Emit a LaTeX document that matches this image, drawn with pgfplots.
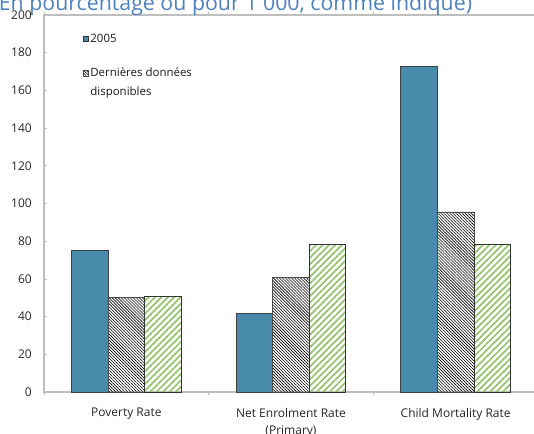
\documentclass[border=0pt]{standalone}
\usepackage{fontspec}
\setmainfont{Open Sans}
\usepackage{pgfplots}
\pgfplotsset{compat=1.18}
\usetikzlibrary{patterns.meta}
\definecolor{barblue}{RGB}{72,138,170}
\definecolor{bargreen}{RGB}{150,195,110}
\definecolor{titleblue}{RGB}{79,129,189}
\definecolor{axgray}{RGB}{190,190,190}
\begin{document}
\begin{tikzpicture}
\begin{axis}[
  name=ax,
  scale only axis,
  width=370.5pt, height=282.75pt,
  xmin=-0.5, xmax=2.5,
  ymin=0, ymax=200,
  ytick distance=20,
  xtick={0,1,2},
  xticklabels={Poverty Rate, Net Enrolment Rate\\(Primary), Child Mortality Rate},
  minor xtick={-0.5,0.5,1.5},
  major x tick style={draw=none},
  tick align=inside,
  major tick length=2.25pt,
  minor tick length=2.25pt,
  tick style={axgray, line width=0.6pt},
  axis line style={axgray, line width=0.9pt},
  /pgf/number format/assume math mode=true,
  ticklabel style={font=\fontsize{9}{12.75}\selectfont, text=black!85},
  yticklabel style={inner sep=0pt, xshift=-9pt},
  xticklabel style={align=center, inner sep=0pt, yshift=-9.5pt},
  ybar,
  bar width=27.4pt,
  legend style={at={(rel axis cs:0.07,0.961)}, anchor=north west, draw=none, fill=none,
    font=\fontsize{8.6}{14.25}\selectfont, row sep=15.5pt,
    cells={anchor=west, align=left}, nodes={inner sep=1pt, text=black!90}},
]
\addplot[fill=barblue, draw=black!75, line width=0.6pt, bar shift=-27.4pt,
  legend image code/.code={\draw[fill=barblue, draw=black!80, line width=0.5pt] (0pt,-2pt) rectangle (4.1pt,2.1pt);}]
  coordinates {(0,75) (1,41.5) (2,172.5)};
\addlegendentry{2005}
\addplot[draw=black!70, line width=0.6pt, bar shift=0pt,
  pattern={Lines[angle=-45,distance=1.6pt,line width=0.45pt]}, pattern color=black,
  legend image code/.code={\draw[draw=black!70, line width=0.5pt, pattern={Lines[angle=-45,distance=1.4pt,line width=0.4pt]}, pattern color=black] (0pt,5pt) rectangle (4.2pt,9.2pt);}]
  coordinates {(0,50) (1,61) (2,95.5)};
\addlegendentry{Dernières données\\disponibles}
\addplot[draw=black!80, line width=0.6pt, bar shift=27.4pt, forget plot,
  pattern={Lines[angle=45,distance=3.4pt,line width=1.3pt]}, pattern color=bargreen]
  coordinates {(0,50.5) (1,78.5) (2,78.5)};
\end{axis}
\node[anchor=base west, font=\fontsize{16}{18}\selectfont, text=titleblue, inner sep=0pt]
  at ([xshift=-38.8pt, yshift=286.1pt]ax.south west) {(En pourcentage ou pour 1 000, comme indiqué)};
\pgfresetboundingbox
\path[use as bounding box] ([xshift=-33pt, yshift=-30.75pt]ax.south west) rectangle ++(400.5pt,324.75pt);
\end{tikzpicture}
\end{document}
